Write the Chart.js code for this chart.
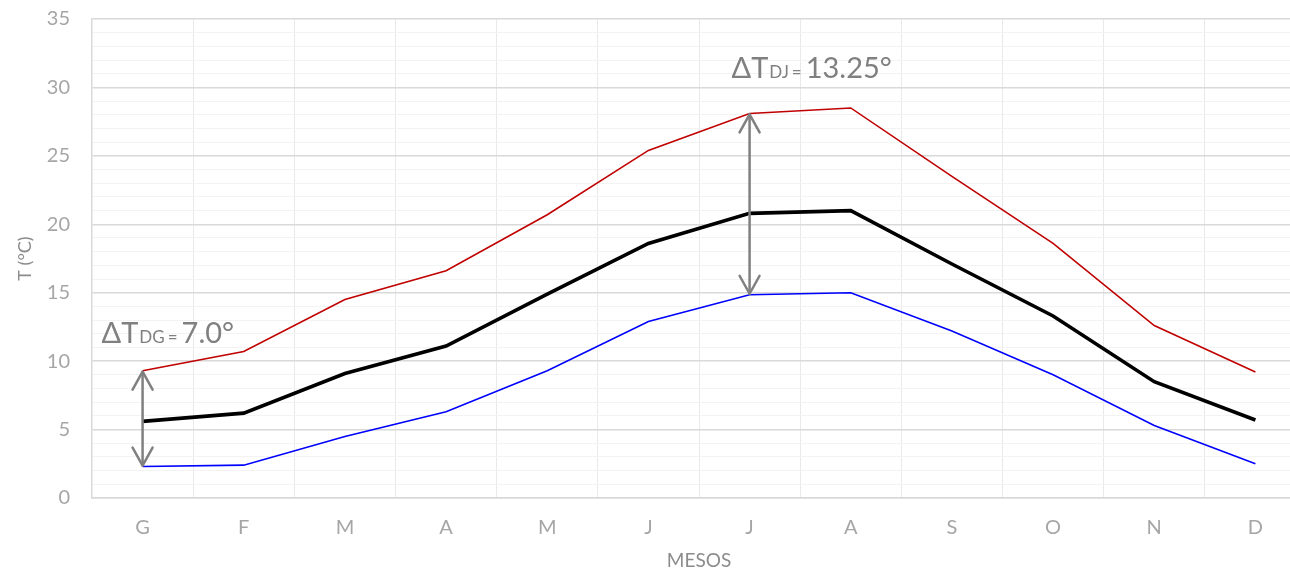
<!DOCTYPE html>
<html>
<head>
<meta charset="utf-8">
<script src="https://cdn.jsdelivr.net/npm/chart.js@4.4.1/dist/chart.umd.min.js"></script>
<style>
  html, body { margin: 0; padding: 0; background: #fff; overflow: hidden; }
  #wrap { width: 1310px; height: 572px; }
</style>
</head>
<body>
<div id="wrap"><canvas id="tempChart" width="1310" height="572"></canvas></div>
<script>
// Monthly temperatures (°C)
const months = ['G', 'F', 'M', 'A', 'M', 'J', 'J', 'A', 'S', 'O', 'N', 'D'];
const tMax = [9.3, 10.7, 14.5, 16.6, 20.7, 25.4, 28.1, 28.5, 23.5, 18.6, 12.6, 9.2];
const tMean = [5.6, 6.2, 9.1, 11.1, 14.9, 18.6, 20.8, 21.0, 17.1, 13.3, 8.5, 5.7];
const tMin = [2.3, 2.4, 4.5, 6.3, 9.3, 12.9, 14.85, 15.0, 12.2, 9.0, 5.3, 2.5];
const yTicks = [0, 5, 10, 15, 20, 25, 30, 35];

// Amplitude annotations: month index, subscript, value text
const deltaMonth = [0, 6];
const deltaSub = ['DG', 'DJ'];
const deltaText = ['7.0°', '13.25°'];

const FONT = 'Lato, "Open Sans", sans-serif';
const GRAY = '#808080';

function drawArrowHead(c, x, y, dir) {
  // open V head, dir = -1 points up, 1 points down
  c.beginPath();
  c.moveTo(x - 10, y - dir * 18);
  c.lineTo(x, y);
  c.lineTo(x + 10, y - dir * 18);
  c.stroke();
}

const deltaPlugin = {
  id: 'deltaArrows',
  afterDatasetsDraw(chart) {
    const c = chart.ctx;
    const xs = chart.scales.x, ys = chart.scales.y;
    c.save();
    c.strokeStyle = GRAY;
    c.lineWidth = 2.5;
    c.lineCap = 'round';
    c.lineJoin = 'round';
    deltaMonth.forEach(i => {
      const x = xs.getPixelForValue(i);
      const yTop = ys.getPixelForValue(tMax[i]) + 1;
      const yBot = ys.getPixelForValue(tMin[i]) - 1;
      c.beginPath();
      c.moveTo(x, yTop);
      c.lineTo(x, yBot);
      c.stroke();
      drawArrowHead(c, x, yTop, -1);
      drawArrowHead(c, x, yBot, 1);
    });

    // labels: ΔT + subscript + " = " + value
    c.fillStyle = GRAY;
    c.textBaseline = 'alphabetic';
    c.textAlign = 'left';
    const anchors = [
      { x: xs.getPixelForValue(0) - 41, y: 343 },
      { x: xs.getPixelForValue(6) - 18, y: 78 }
    ];
    deltaMonth.forEach((i, k) => {
      let x = anchors[k].x;
      const y = anchors[k].y;
      c.font = '29px ' + FONT;
      c.fillText('ΔT', x, y);
      x += c.measureText('ΔT').width + 1;
      c.font = '17px ' + FONT;
      c.fillText(deltaSub[k], x, y);
      x += c.measureText(deltaSub[k]).width + 3;
      c.fillText('=', x, y);
      x += c.measureText('=').width + 4;
      c.font = '29px ' + FONT;
      c.fillText(deltaText[k], x, y);
    });
    c.restore();
  }
};

new Chart(document.getElementById('tempChart'), {
  type: 'line',
  data: {
    labels: months,
    datasets: [{
      label: 'T màx',
      data: tMax,
      borderColor: '#c00000',
      borderWidth: 1.6,
      pointRadius: 0,
      tension: 0
    }, {
      label: 'T mitjana',
      data: tMean,
      borderColor: '#000000',
      borderWidth: 3.6,
      pointRadius: 0,
      tension: 0
    }, {
      label: 'T mín',
      data: tMin,
      borderColor: '#0000ff',
      borderWidth: 1.6,
      pointRadius: 0,
      tension: 0
    }]
  },
  options: {
    responsive: false,
    animation: false,
    layout: { padding: { top: 19, right: 4, left: 0, bottom: 0 } },
    plugins: {
      legend: { display: false },
      tooltip: { enabled: false }
    },
    scales: {
      x: {
        offset: true,
        grid: { offset: true, color: '#e9e9e9', lineWidth: 1, drawTicks: false },
        border: { color: '#d9d9d9', width: 1.5 },
        ticks: { color: '#a6a6a6', font: { family: FONT, size: 20 }, padding: 18, maxRotation: 0 },
        title: { display: true, text: 'MESOS', color: '#8c8c8c', font: { family: FONT, size: 19 }, padding: { top: 0, bottom: 0 } },
        afterFit: s => { s.height = 74; s.paddingLeft = 0; s.paddingRight = 0; }
      },
      y: {
        min: yTicks[0],
        max: yTicks[yTicks.length - 1],
        grid: {
          drawTicks: false,
          color: ctx => (yTicks.includes(ctx.tick.value) ? '#d9d9d9' : '#f3f3f3'),
          lineWidth: ctx => (yTicks.includes(ctx.tick.value) ? 1.5 : 1)
        },
        border: { color: '#d9d9d9', width: 1.5 },
        ticks: {
          stepSize: 1,
          autoSkip: false,
          color: '#a6a6a6',
          font: { family: FONT, size: 20 },
          padding: 22,
          callback: v => (yTicks.includes(v) ? v : '')
        },
        title: { display: true, text: 'T (°C)', color: '#8c8c8c', font: { family: FONT, size: 18 }, padding: { top: 14, bottom: 0 } },
        afterFit: s => { s.width = 92; s.paddingTop = 0; s.paddingBottom = 0; }
      }
    }
  },
  plugins: [deltaPlugin]
});
</script>
</body>
</html>
